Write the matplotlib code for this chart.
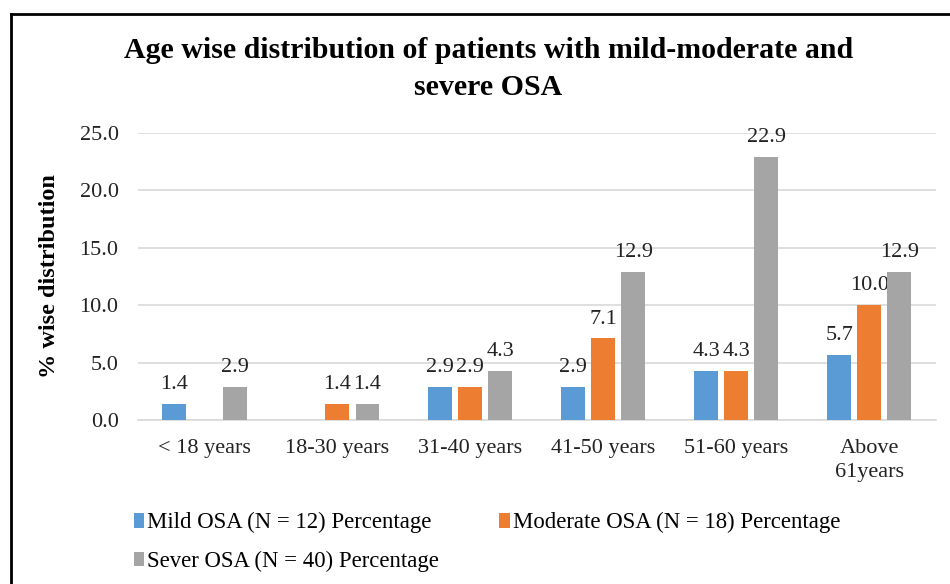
import matplotlib
matplotlib.use("Agg")
import matplotlib.pyplot as plt
import numpy as np
from matplotlib.patches import Patch
from matplotlib.lines import Line2D

categories = ["< 18 years", "18-30 years", "31-40 years", "41-50 years", "51-60 years", "Above\n61years"]
mild = [1.4, np.nan, 2.9, 2.9, 4.3, 5.7]
moderate = [np.nan, 1.4, 2.9, 7.1, 4.3, 10.0]
severe = [2.9, 1.4, 4.3, 12.9, 22.9, 12.9]
series_names = ["Mild OSA (N = 12) Percentage", "Moderate OSA (N = 18) Percentage", "Sever OSA (N = 40) Percentage"]
colors = ["#5B9BD5", "#ED7D31", "#A5A5A5"]

plt.rcParams['font.family'] = ['Liberation Serif', 'DejaVu Serif']

fig = plt.figure(figsize=(9.5, 5.84), dpi=100)
ax = fig.add_axes([0.1453, 0.2808, 0.8397, 0.492])

x = np.arange(len(categories))
pitch = 0.226
width = 0.18
for i, (vals, c) in enumerate(zip([mild, moderate, severe], colors)):
    xs = x + (i - 1) * pitch
    v = np.array(vals, dtype=float)
    ax.bar(xs, np.nan_to_num(v), width=width, color=c, zorder=3)
    for xi, vi in zip(xs, v):
        if not np.isnan(vi):
            ax.annotate(f"{vi:.1f}", (xi, vi), xytext=(0, 7), textcoords='offset points',
                        ha='center', va='bottom', fontsize=16, color='#222222')

ax.set_xlim(-0.5, len(categories) - 0.5)
ax.set_ylim(0, 25)
ax.set_yticks(np.arange(0, 25.1, 5))
ax.set_yticklabels([f"{t:.1f}" for t in np.arange(0, 25.1, 5)], fontsize=16, color='#222222')
ax.set_xticks(x)
ax.set_xticklabels(categories, fontsize=16, color='#222222', linespacing=1.3)
ax.tick_params(axis='y', length=0, pad=14)
ax.tick_params(axis='x', length=0, pad=14)
ax.yaxis.grid(True, color='#d9d9d9', linewidth=1.2, zorder=0)
for s in ['top', 'right', 'left']:
    ax.spines[s].set_visible(False)
ax.spines['bottom'].set_color('#d9d9d9')
ax.spines['bottom'].set_linewidth(1.2)
ax.set_ylabel("% wise distribution", fontsize=17.5, fontweight='bold', labelpad=14)

fig.text(0.514, 1 - 69 / 584, "Age wise distribution of patients with mild-moderate and\nsevere OSA",
         ha='center', va='center', fontsize=21.5, fontweight='bold', linespacing=1.45)

order = [0, 2, 1]
handles = [Patch(facecolor=colors[k], edgecolor='none') for k in order]
labels = [series_names[k] for k in order]
leg = fig.legend(handles, labels, loc='upper left', bbox_to_anchor=(0.131, 1 - 503 / 584),
                 ncol=2, frameon=False, fontsize=16.4, handlelength=0.45, handleheight=0.6,
                 handletextpad=0.15, columnspacing=2.65, labelspacing=0.78, borderaxespad=0)

# figure border (top and left)
fig.add_artist(Line2D([11 / 950, 1.0], [1 - 14 / 584, 1 - 14 / 584], transform=fig.transFigure, color='black', linewidth=2))
fig.add_artist(Line2D([11 / 950, 11 / 950], [0, 1 - 14 / 584], transform=fig.transFigure, color='black', linewidth=2))

fig.savefig("out.png", dpi=100)
